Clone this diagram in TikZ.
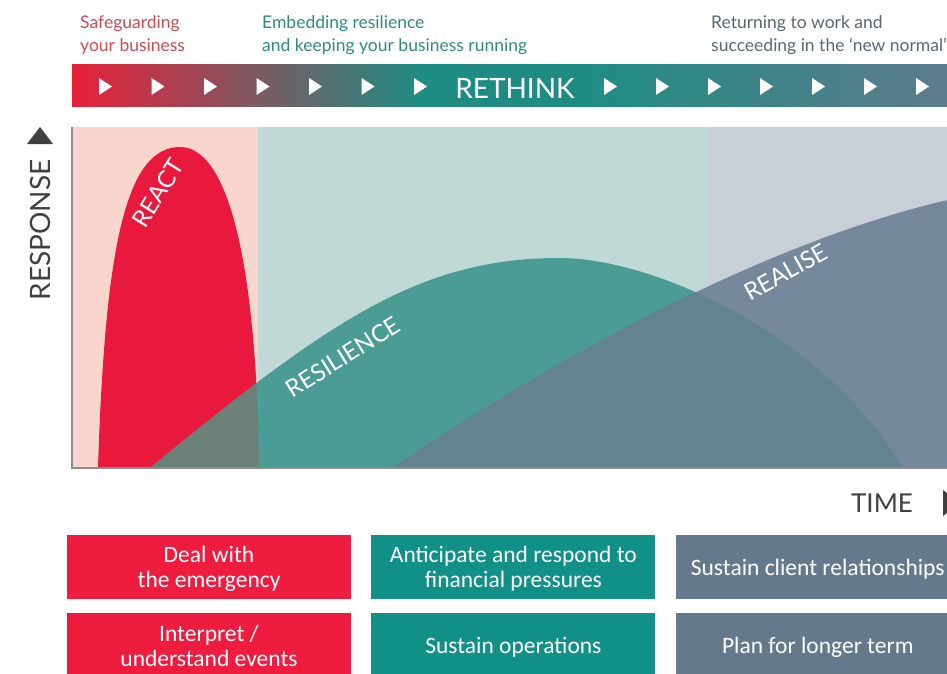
\documentclass[tikz,border=0pt]{standalone}
\usepackage{fontspec}
\setmainfont{Lato}
\newfontfamily\boxfont{Carlito}
\usetikzlibrary{positioning,shapes.geometric}

\definecolor{barred}{HTML}{E8203A}
\definecolor{barteal}{HTML}{1F8C84}
\definecolor{barslate}{HTML}{5E7B8D}
\definecolor{pinkbg}{HTML}{F8D6CD}
\definecolor{tealbg}{HTML}{C0D9D6}
\definecolor{slatebg}{HTML}{C9CFD7}
\definecolor{reactred}{HTML}{E8193C}
\definecolor{resteal}{HTML}{4A9C94}
\definecolor{reactres}{HTML}{6B8076}
\definecolor{realslate}{HTML}{76899C}
\definecolor{resreal}{HTML}{62838F}
\definecolor{boxred}{HTML}{EE1C3E}
\definecolor{boxteal}{HTML}{119088}
\definecolor{boxslate}{HTML}{647A8C}
\definecolor{lblred}{HTML}{CE4A55}
\definecolor{lblteal}{HTML}{2E8A80}
\definecolor{lblslate}{HTML}{5A6670}
\definecolor{axisgray}{HTML}{404040}

% bar gradient: red -> teal -> slate
\pgfdeclarehorizontalshading{rethinkbar}{100bp}{color(0bp)=(barred); color(25bp)=(barred);
    color(44.9bp)=(barteal); color(54.5bp)=(barteal); color(75bp)=(barslate); color(100bp)=(barslate)}

% curve outlines
\newcommand\reactshape{(98,468) .. controls (105,250) and (125,147) .. (180,147) .. controls (232,147) and (257,280) .. (259,468) -- cycle}
\newcommand\resilshape{(150,468) .. controls (330,320) and (420,258) .. (560,258) .. controls (650,258) and (820,330) .. (903,468) -- cycle}
\newcommand\realshape{(392,468) .. controls (550,360) and (800,220) .. (1000,190) -- (1000,468) -- cycle}

\begin{document}
\begin{tikzpicture}[x=1pt,y=-1pt]
        \tikzset{phase/.style={anchor=north west, inner sep=0, align=left, font=\fontsize{17.5}{23}\selectfont},
        curvelabel/.style={text=white, inner sep=0, font=\fontsize{24}{24}\selectfont},
        axislabel/.style={text=axisgray, inner sep=0, font=\fontsize{28}{28}\selectfont},
        tbox/.style={rectangle, align=center, text=white, minimum width=284pt, minimum height=64pt, inner sep=0,
        text depth=0pt, font=\boxfont\fontsize{23.5}{25}\selectfont},
        }
        \useasboundingbox (0,0) rectangle (947,674);
        \clip (0,0) rectangle (947,674);
%% phase labels
        \node [phase, text=lblred] (safe) at (80,15) {Safeguarding\\your business};
        \node [phase, text=lblteal] (embed) at (262,15) {Embedding resilience\\and keeping your business running};
        \node [phase, text=lblslate] (return) at (711,15) {Returning to work and\\succeeding in the `new normal'};
%% rethink bar
        \shade [shading=rethinkbar] (72,65) rectangle (947,107);
        \foreach \i in {0,...,6} {
            \fill [white] (99+52.5*\i,78) -- ++(13,8.5) -- ++(-13,8.5) -- cycle;
            \fill [white] (604+52*\i,78) -- ++(13,8.5) -- ++(-13,8.5) -- cycle;
        }
        \node [text=white, inner sep=0, font=\fontsize{28}{28}\selectfont] (rethink) at (515,88) {RETHINK};
%% chart
        \fill [pinkbg] (72,127) rectangle (258,468);
        \fill [tealbg] (258,127) rectangle (708,468);
        \fill [slatebg] (708,127) rectangle (947,468);
        \fill [reactred] \reactshape;
        \fill [resteal] \resilshape;
        \fill [realslate] \realshape;
        \begin{scope}
            \clip \reactshape;
            \fill [reactres] \resilshape;
        \end{scope}
        \begin{scope}
            \clip \resilshape;
            \fill [resreal] \realshape;
        \end{scope}
        \node [curvelabel, rotate=58] (react) at (158,193) {REACT};
        \node [curvelabel, rotate=32] (resilience) at (343,357) {RESILIENCE};
        \node [curvelabel, rotate=29] (realise) at (786,272) {REALISE};
        \draw [axisgray!60, line width=1.5pt] (72,127) -- (72,468) -- (947,468);
%% axes
        \node [axislabel, rotate=90] (response) at (40,230) {RESPONSE};
        \fill [axisgray] (40,127) -- (53,144) -- (27,144) -- cycle;
        \node [axislabel, font=\fontsize{26}{26}\selectfont] (time) at (882,503) {TIME};
        \fill [axisgray] (943,490) -- (960,503) -- (943,516) -- cycle;
%% boxes
        \node [tbox, fill=boxred] (deal) at (209,567) {Deal with\\the emergency};
        \node [tbox, fill=boxteal, right=20pt of deal] (anticipate) {Anticipate and respond to\\financial pressures};
        \node [tbox, fill=boxslate, right=20pt of anticipate] (client) {Sustain client relationships};
        \node [tbox, fill=boxred, below=14pt of deal] (interpret) {Interpret /\\understand events};
        \node [tbox, fill=boxteal, right=20pt of interpret] (operations) {Sustain operations};
        \node [tbox, fill=boxslate, right=20pt of operations] (plan) {Plan for longer term};
    \end{tikzpicture}
\end{document}
